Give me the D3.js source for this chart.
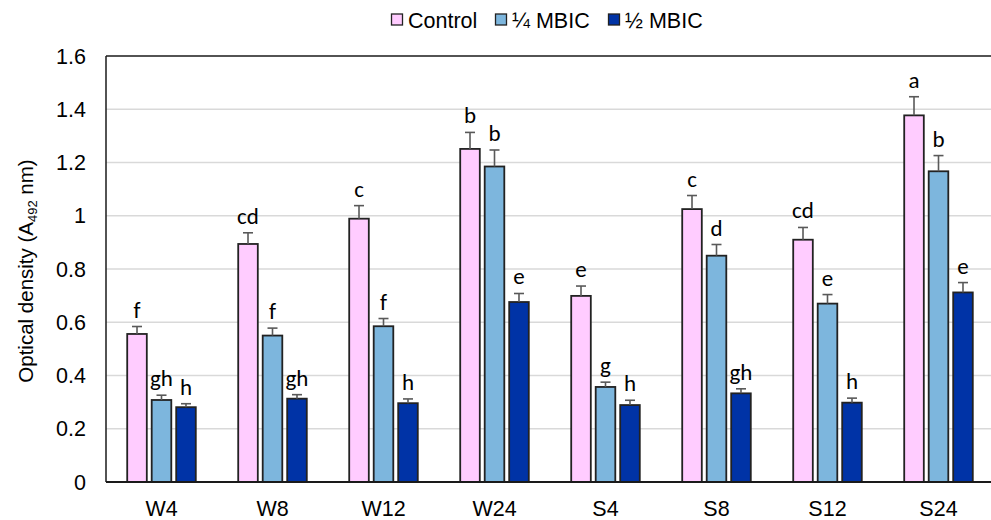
<!DOCTYPE html>
<html>
<head>
<meta charset="utf-8">
<script src="https://cdn.jsdelivr.net/npm/d3@7/dist/d3.min.js"></script>
<style>
  html, body { margin: 0; padding: 0; background: #fff; }
  svg { display: block; }
  .tick-label, .cat-label, .legend-label, .axis-title { font-family: "Liberation Sans", Arial, Helvetica, sans-serif; fill: #000; }
  .letter { font-family: Carlito, Calibri, Lato, "Open Sans", sans-serif; fill: #000; }
</style>
</head>
<body>
<svg id="chart" width="991" height="520"></svg>
<script>
// Biofilm optical density per group and treatment
const categories = ["W4", "W8", "W12", "W24", "S4", "S8", "S12", "S24"];
const seriesNames = ["Control", "¼ MBIC", "½ MBIC"];

const controlValues = [0.556, 0.894, 0.989, 1.251, 0.699, 1.025, 0.910, 1.377];
const controlErrors = [0.028, 0.042, 0.049, 0.062, 0.037, 0.051, 0.046, 0.070];
const quarterValues = [0.308, 0.550, 0.585, 1.185, 0.357, 0.850, 0.670, 1.167];
const quarterErrors = [0.018, 0.028, 0.029, 0.062, 0.018, 0.042, 0.034, 0.059];
const halfValues    = [0.281, 0.313, 0.296, 0.676, 0.289, 0.333, 0.298, 0.712];
const halfErrors    = [0.013, 0.015, 0.016, 0.032, 0.018, 0.017, 0.017, 0.037];

// Significance letters
const controlLetters = ["f", "cd", "c", "b", "e", "c", "cd", "a"];
const quarterLetters = ["gh", "f", "f", "b", "g", "d", "e", "b"];
const halfLetters    = ["h", "gh", "h", "e", "h", "gh", "h", "e"];

const yTicks = [0, 0.2, 0.4, 0.6, 0.8, 1, 1.2, 1.4, 1.6];
const yTickLabels = ["0", "0.2", "0.4", "0.6", "0.8", "1", "1.2", "1.4", "1.6"];

const colors = ["#FFCCFF", "#7DB6DD", "#0033A6"];

const seriesValues = [controlValues, quarterValues, halfValues];
const seriesErrors = [controlErrors, quarterErrors, halfErrors];
const seriesLetters = [controlLetters, quarterLetters, halfLetters];

const rows = [];
categories.forEach((c, i) => {
  seriesNames.forEach((s, j) => {
    rows.push({ cat: c, series: s, idx: j, value: seriesValues[j][i], err: seriesErrors[j][i], letter: seriesLetters[j][i] });
  });
});

const svg = d3.select("#chart");
const W = 991;
const plotLeft = 106, plotTop = 56, plotBottom = 482;
const groupStep = 111;

const x0 = d3.scaleBand().domain(categories)
  .range([plotLeft, plotLeft + groupStep * categories.length])
  .paddingInner(0).paddingOuter(0);
const x1 = d3.scaleBand().domain(seriesNames)
  .range([0, x0.bandwidth()])
  .paddingInner(0.2).paddingOuter(0.866);
const y = d3.scaleLinear().domain([0, 1.6]).range([plotBottom, plotTop]);

// gridlines
svg.append("g").selectAll("line")
  .data(yTicks.filter(t => t > 0 && t < 1.6))
  .join("line")
  .attr("x1", plotLeft).attr("x2", W)
  .attr("y1", d => y(d)).attr("y2", d => y(d))
  .attr("stroke", "#D9D9D9").attr("stroke-width", 1.5);

// top border
svg.append("line")
  .attr("x1", plotLeft).attr("x2", W)
  .attr("y1", y(1.6)).attr("y2", y(1.6))
  .attr("stroke", "#1a1a1a").attr("stroke-width", 1.5);

// y tick labels
svg.append("g").selectAll("text")
  .data(yTicks)
  .join("text")
  .attr("class", "tick-label")
  .attr("x", 86)
  .attr("y", d => y(d))
  .attr("dy", "0.36em")
  .attr("text-anchor", "end")
  .attr("font-size", 21.5)
  .text((d, i) => yTickLabels[i]);

// y axis title
const title = svg.append("text")
  .attr("class", "axis-title")
  .attr("transform", "translate(33,271) rotate(-90)")
  .attr("text-anchor", "middle")
  .attr("font-size", 20.5);
title.append("tspan").text("Optical density (A");
title.append("tspan").attr("font-size", 13).attr("dy", 4).text("492");
title.append("tspan").attr("dy", -4).text(" nm)");

// bars
const bars = svg.append("g");
bars.selectAll("rect")
  .data(rows)
  .join("rect")
  .attr("x", d => x0(d.cat) + x1(d.series))
  .attr("y", d => y(d.value))
  .attr("width", x1.bandwidth())
  .attr("height", d => y(0) - y(d.value))
  .attr("fill", d => colors[d.idx])
  .attr("stroke", "#222")
  .attr("stroke-width", 1.8);

// error bars (upper only)
const eb = svg.append("g").attr("stroke", "#595959").attr("stroke-width", 1.6);
rows.forEach(d => {
  const cx = x0(d.cat) + x1(d.series) + x1.bandwidth() / 2;
  eb.append("line").attr("x1", cx).attr("x2", cx)
    .attr("y1", y(d.value)).attr("y2", y(d.value + d.err));
  eb.append("line").attr("x1", cx - 5).attr("x2", cx + 5)
    .attr("y1", y(d.value + d.err)).attr("y2", y(d.value + d.err));
});

// significance letters
svg.append("g").selectAll("text")
  .data(rows)
  .join("text")
  .attr("class", "letter")
  .attr("x", d => x0(d.cat) + x1(d.series) + x1.bandwidth() / 2)
  .attr("y", d => y(d.value + d.err) - 9)
  .attr("text-anchor", "middle")
  .attr("font-size", 23)
  .text(d => d.letter);

// x axis line and left axis line
svg.append("line")
  .attr("x1", plotLeft).attr("x2", W)
  .attr("y1", y(0)).attr("y2", y(0))
  .attr("stroke", "#1a1a1a").attr("stroke-width", 1.8);
svg.append("line")
  .attr("x1", plotLeft).attr("x2", plotLeft)
  .attr("y1", y(0)).attr("y2", y(1.6))
  .attr("stroke", "#1a1a1a").attr("stroke-width", 1.5);

// category labels
svg.append("g").selectAll("text")
  .data(categories)
  .join("text")
  .attr("class", "cat-label")
  .attr("x", d => x0(d) + x0.bandwidth() / 2)
  .attr("y", 516)
  .attr("text-anchor", "middle")
  .attr("font-size", 21.5)
  .text(d => d);

// legend
const legendX = [391, 495, 608];
const legend = svg.append("g");
seriesNames.forEach((s, j) => {
  const g = legend.append("g").attr("transform", `translate(${legendX[j]},0)`);
  g.append("rect").attr("x", 0.5).attr("y", 14).attr("width", 11).attr("height", 11)
    .attr("fill", colors[j]).attr("stroke", "#222").attr("stroke-width", 1.3);
  g.append("text").attr("class", "legend-label")
    .attr("x", 17).attr("y", 27.5)
    .attr("font-size", 21.5)
    .text(s);
});
</script>
</body>
</html>
